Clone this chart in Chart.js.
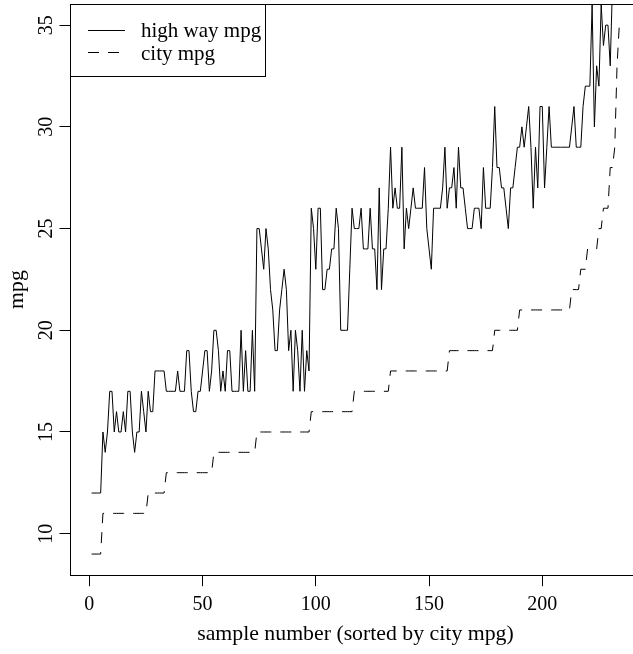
<!DOCTYPE html>
<html>
<head>
<meta charset="utf-8">
<script src="https://cdn.jsdelivr.net/npm/chart.js@4"></script>
<style>
  html, body { margin: 0; padding: 0; background: #fff; overflow: hidden; }
  #wrap { width: 633px; height: 654px; overflow: hidden; }
</style>
</head>
<body>
<div id="wrap"><canvas id="mpgChart" width="660" height="654"></canvas></div>
<script>
// city mpg sorted ascending, highway mpg in the same order (234 cars)
const cityMpg = [
  9, 9, 9, 9, 9,
  11, 11, 11, 11, 11, 11, 11, 11, 11, 11, 11, 11, 11, 11, 11, 11, 11, 11, 11, 11,
  12, 12, 12, 12, 12, 12, 12, 12,
  13, 13, 13, 13, 13, 13, 13, 13, 13, 13, 13, 13, 13, 13, 13, 13, 13, 13, 13, 13, 13,
  14, 14, 14, 14, 14, 14, 14, 14, 14, 14, 14, 14, 14, 14, 14, 14, 14, 14, 14,
  15, 15, 15, 15, 15, 15, 15, 15, 15, 15, 15, 15, 15, 15, 15, 15, 15, 15, 15, 15, 15, 15, 15, 15,
  16, 16, 16, 16, 16, 16, 16, 16, 16, 16, 16, 16, 16, 16, 16, 16, 16, 16, 16,
  17, 17, 17, 17, 17, 17, 17, 17, 17, 17, 17, 17, 17, 17, 17, 17,
  18, 18, 18, 18, 18, 18, 18, 18, 18, 18, 18, 18, 18, 18, 18, 18, 18, 18, 18, 18, 18, 18, 18, 18, 18, 18,
  19, 19, 19, 19, 19, 19, 19, 19, 19, 19, 19, 19, 19, 19, 19, 19, 19, 19, 19, 19,
  20, 20, 20, 20, 20, 20, 20, 20, 20, 20, 20,
  21, 21, 21, 21, 21, 21, 21, 21, 21, 21, 21, 21, 21, 21, 21, 21, 21, 21, 21, 21, 21, 21, 21,
  22, 22, 22, 22,
  23, 23, 23,
  24, 24, 24, 24, 24,
  25, 25,
  26, 26, 26,
  28, 28,
  29, 33, 35
];
const highwayMpg = [
  12, 12, 12, 12, 12,
  15, 14, 15, 17, 17, 15, 16, 15, 15, 16, 15, 17, 17, 15, 14, 15, 15, 17, 16, 15,
  17, 16, 16, 18, 18, 18, 18, 18,
  17, 17, 17, 17, 17, 18, 17, 17, 17, 19, 19, 17, 16, 16, 17, 17, 18, 19, 19, 17, 18,
  20, 20, 19, 17, 18, 17, 19, 19, 17, 17, 17, 17, 20, 17, 19, 17, 17, 20, 17,
  25, 25, 24, 23, 25, 24, 22, 21, 19, 19, 21, 22, 23, 22, 19, 20, 17, 20, 19, 17, 20, 17, 19, 18,
  26, 25, 23, 26, 26, 22, 22, 23, 23, 24, 24, 26, 25, 20, 20, 20, 20, 23, 26,
  25, 25, 25, 26, 24, 24, 24, 26, 24, 24, 22, 27, 22, 24, 24, 26,
  29, 26, 27, 26, 26, 29, 24, 26, 25, 26, 27, 26, 26, 26, 26, 28, 25, 24, 23, 26, 26, 26, 26, 27, 29, 26,
  27, 27, 28, 26, 29, 27, 27, 26, 25, 25, 25, 26, 26, 26, 25, 28, 26, 26, 26, 28,
  31, 28, 28, 27, 27, 26, 25, 27, 27, 28, 29,
  29, 30, 29, 30, 31, 29, 26, 29, 27, 31, 31, 27, 29, 31, 29, 29, 29, 29, 29, 29, 29, 29, 29,
  30, 31, 29, 29,
  29, 31, 32,
  32, 32, 36, 30, 33,
  32, 36,
  34, 35, 35,
  33, 37,
  41, 44, 44
];
const xTicks = [0, 50, 100, 150, 200];
const yTicks = [10, 15, 20, 25, 30, 35];
const seriesNames = ["high way mpg", "city mpg"];

const serif = "'Liberation Serif', 'Times New Roman', serif";

// R-style look: full box, outward ticks, rotated y labels, boxed legend
const rStyle = {
  id: "rStyle",
  afterDraw(chart) {
    const ctx = chart.ctx;
    const a = chart.chartArea;
    const xs = chart.scales.x, ys = chart.scales.y;
    ctx.save();
    ctx.strokeStyle = "#000";
    ctx.lineWidth = 1;
    ctx.strokeRect(Math.floor(a.left) + 0.5, Math.floor(a.top) + 0.5,
      a.right - a.left, Math.floor(a.bottom) - Math.floor(a.top));

    ctx.fillStyle = "#000";
    ctx.font = "20px " + serif;
    ctx.textAlign = "center";
    ctx.textBaseline = "alphabetic";
    xTicks.forEach(v => ctx.fillText(String(v), xs.getPixelForValue(v), 609.5));
    yTicks.forEach(v => {
      ctx.save();
      ctx.translate(52, ys.getPixelForValue(v));
      ctx.rotate(-Math.PI / 2);
      ctx.fillText(String(v), 0, 0);
      ctx.restore();
    });

    ctx.font = "21.8px " + serif;
    ctx.fillText("sample number (sorted by city mpg)", (a.left + a.right) / 2, 640);
    ctx.save();
    ctx.translate(23, (a.top + a.bottom) / 2);
    ctx.rotate(-Math.PI / 2);
    ctx.fillText("mpg", 0, 0);
    ctx.restore();

    // legend
    ctx.font = "21px " + serif;
    ctx.fillStyle = "#fff";
    ctx.fillRect(Math.floor(a.left) + 1, Math.floor(a.top) + 1, 195, 71);
    ctx.strokeRect(Math.floor(a.left) + 0.5, Math.floor(a.top) + 0.5, 195, 72);
    ctx.fillStyle = "#000";
    ctx.textAlign = "left";
    ctx.fillText(seriesNames[0], 141, 36.5);
    ctx.fillText(seriesNames[1], 141, 60);
    ctx.beginPath();
    ctx.moveTo(88, 30.5);
    ctx.lineTo(125, 30.5);
    ctx.stroke();
    ctx.setLineDash([11, 9]);
    ctx.beginPath();
    ctx.moveTo(88, 52.5);
    ctx.lineTo(125, 52.5);
    ctx.stroke();
    ctx.restore();
  }
};

const toPoints = arr => arr.map((v, i) => ({ x: i + 1, y: v }));

new Chart(document.getElementById("mpgChart"), {
  type: "line",
  data: {
    datasets: [
      {
        label: seriesNames[0],
        data: toPoints(highwayMpg),
        borderColor: "#000",
        borderWidth: 1,
        pointRadius: 0,
        tension: 0,
        fill: false,
        clip: 0
      },
      {
        label: seriesNames[1],
        data: toPoints(cityMpg),
        borderColor: "#000",
        borderWidth: 1,
        borderDash: [11, 9],
        pointRadius: 0,
        tension: 0,
        fill: false,
        clip: 0
      }
    ]
  },
  options: {
    responsive: false,
    animation: false,
    devicePixelRatio: 1,
    layout: { padding: { top: 4, right: 19.6, left: 0, bottom: 0 } },
    plugins: { legend: { display: false }, tooltip: { enabled: false } },
    scales: {
      x: {
        type: "linear",
        min: -8.32,
        max: 243.32,
        afterBuildTicks: s => { s.ticks = xTicks.map(v => ({ value: v })); },
        afterFit: s => { s.height = 78.8; },
        ticks: { display: false },
        border: { display: false },
        grid: { drawOnChartArea: false, drawTicks: true, tickLength: 11, color: "#000", lineWidth: 1 }
      },
      y: {
        type: "linear",
        min: 7.96,
        max: 36.04,
        afterBuildTicks: s => { s.ticks = yTicks.map(v => ({ value: v })); },
        afterFit: s => { s.width = 70.5; },
        ticks: { display: false },
        border: { display: false },
        grid: { drawOnChartArea: false, drawTicks: true, tickLength: 11, color: "#000", lineWidth: 1 }
      }
    }
  },
  plugins: [rStyle]
});
</script>
</body>
</html>
